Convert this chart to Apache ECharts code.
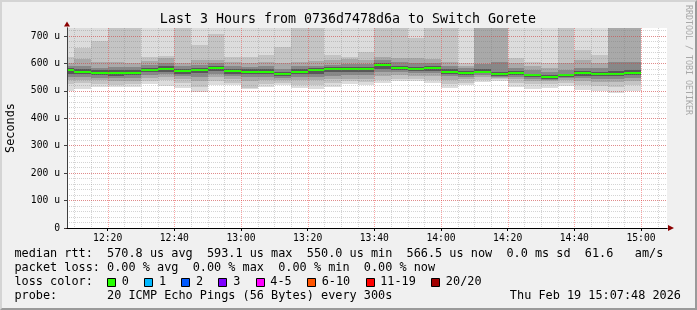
<!DOCTYPE html>
<html><head><meta charset="utf-8">
<script src="https://cdn.jsdelivr.net/npm/echarts@6/dist/echarts.min.js"></script>
<style>
html,body{margin:0;padding:0;background:#f0f0f0;}
#wrap{position:relative;width:697px;height:310px;}
#c{position:absolute;left:0;top:0;width:697px;height:310px;}
#frame{position:absolute;left:0;top:0;width:697px;height:310px;box-sizing:border-box;border-top:2px solid #d4d4d4;border-left:2px solid #d4d4d4;border-right:2px solid #9a9a9a;border-bottom:2px solid #9a9a9a;pointer-events:none;}
</style></head>
<body><div id="wrap"><div id="c"></div><div id="frame"></div></div>
<script>
// ---- data (microseconds) ----
const startTime = '12:07:48';
const endTime = '15:07:48';
const stepSeconds = 300;
const bucketEnds = ['12:10','12:15','12:20','12:25','12:30','12:35','12:40','12:45','12:50','12:55',
  '13:00','13:05','13:10','13:15','13:20','13:25','13:30','13:35','13:40','13:45',
  '13:50','13:55','14:00','14:05','14:10','14:15','14:20','14:25','14:30','14:35',
  '14:40','14:45','14:50','14:55','15:00'];
const xTickLabels = ['12:20','12:40','13:00','13:20','13:40','14:00','14:20','14:40','15:00'];
const xMinorTicks = ['12:10','12:15','12:25','12:30','12:35','12:45','12:50','12:55',
  '13:05','13:10','13:15','13:25','13:30','13:35','13:45',
  '13:50','13:55','14:05','14:10','14:15','14:25','14:30','14:35',
  '14:45','14:50','14:55','15:05'];
const median = [574.5,570.5,566.5,566.5,566.5,577.5,581.5,573.5,577.5,584.5,
  573.5,570.5,570.5,560.5,570.5,574.5,578.5,578.5,578.5,593.1,
  582.5,578.5,582.5,570.5,564.5,570.5,560.5,564.5,556.5,550.0,
  556.5,564.5,561.5,561.5,566.5];
const pingMin = [498,506,514,514,515,525,518,510,495,523,520,505,514,520,510,506,515,525,522,530,537,535,528,510,520,532,535,515,507,510,518,503,500,493,500];
const ping2 = [525,528,525,522,525,535,538,530,515,535,530,512,525,530,522,520,528,535,532,540,545,545,540,525,530,540,542,530,525,525,530,520,518,515,520];
const ping3 = [540,540,538,535,536,548,550,545,535,550,542,535,538,540,538,538,542,545,545,555,558,556,553,540,542,550,548,542,537,535,540,535,533,532,535];
const ping5 = [552,550,548,546,547,558,560,555,550,562,553,550,550,548,550,552,555,557,557,568,568,566,565,553,550,558,552,550,545,540,546,548,545,545,548];
const ping8 = [563,560,557,556,557,568,570,563,565,572,563,560,560,553,560,562,567,568,568,580,575,572,574,562,557,564,555,557,550,545,551,556,553,553,558];
const ping13 = [582,580,575,576,575,585,590,581,585,592,580,578,578,568,578,582,586,586,587,602,592,588,590,578,572,578,570,572,563,558,563,572,570,572,577];
const ping16 = [590,592,585,588,586,595,602,590,596,600,590,588,590,580,590,592,596,598,598,612,605,600,600,590,582,598,604,585,575,568,575,585,582,605,605];
const ping18 = [600,615,605,605,600,610,618,602,612,612,605,600,605,600,605,610,612,615,612,625,620,618,615,605,590,760,760,600,590,585,601,612,600,760,760];
const ping19 = [622,656,680,760,760,622,628,760,668,707,622,622,631,660,760,760,631,625,640,760,760,693,760,760,601,760,760,620,605,600,760,649,631,760,760];
const pingMax = [760,760,760,760,760,760,760,760,760,760,760,760,760,760,760,760,760,760,760,760,760,760,760,760,760,760,760,760,760,760,760,760,760,760,760];
const yTicks = [0,100,200,300,400,500,600,700];
const yMax = 729.2;

const titleText = 'Last 3 Hours from 0736d7478d6a to Switch Gorete';
const legendRtt = 'median rtt:  570.8 us avg  593.1 us max  550.0 us min  566.5 us now  0.0 ms sd  61.6   am/s';
const legendLoss = 'packet loss: 0.00 % avg  0.00 % max  0.00 % min  0.00 % now';
const legendProbe = 'probe:       20 ICMP Echo Pings (56 Bytes) every 300s';
const stampText = 'Thu Feb 19 15:07:48 2026';
const lossLabels = ['0','1','2','3','4-5','6-10','11-19','20/20'];
const lossColors = ['#26ff00','#00b8ff','#0059ff','#7e00ff','#ff00ff','#ff5500','#ff0000','#a10000'];

// ---- helpers ----
const toSec = s => { const p = s.split(':').map(Number); return p[0]*3600 + p[1]*60 + (p[2]||0); };
const fmtTime = v => { const h = Math.floor(v/3600), m = Math.round((v%3600)/60); return String(h).padStart(2,'0') + ':' + String(m).padStart(2,'0'); };
const T0 = toSec(startTime), T1 = toSec(endTime);
const MONO = "'DejaVu Sans Mono', monospace";

const bands = [
  {lo: pingMin, hi: pingMax, color: '#dcdcdc'},
  {lo: ping2, hi: ping19, color: '#c4c4c4'},
  {lo: ping3, hi: ping18, color: '#a9a9a9'},
  {lo: ping5, hi: ping16, color: '#888888'},
  {lo: ping8, hi: ping13, color: '#585858'}
];

const seriesData = bucketEnds.map((t, i) => [toSec(t), median[i]]);
const majorX = xTickLabels.map(toSec);
const minorX = xMinorTicks.map(toSec);

// ---- legend graphics ----
const CW = 7.13, LX = 14.4, FS = 11.85;
const graphics = [];
graphics.push({type:'text', x:348, y:19.5, z:10, style:{text:titleText, font:'13.3px ' + MONO, fill:'#000', align:'center', verticalAlign:'middle'}});
graphics.push({type:'text', x:11, y:128, rotation:Math.PI/2, z:10, style:{text:'Seconds', font:FS + 'px ' + MONO, fill:'#000', align:'center', verticalAlign:'middle'}});
graphics.push({type:'text', x:688, y:5, rotation:-Math.PI/2, z:10, style:{text:'RRDTOOL / TOBI OETIKER', font:'8.3px ' + MONO, fill:'#a8a8a8', align:'left', verticalAlign:'middle'}});
graphics.push({type:'text', x:LX, y:254, z:10, style:{text:legendRtt, font:FS + 'px ' + MONO, fill:'#000', align:'left', verticalAlign:'middle'}});
graphics.push({type:'text', x:LX, y:268, z:10, style:{text:legendLoss, font:FS + 'px ' + MONO, fill:'#000', align:'left', verticalAlign:'middle'}});
graphics.push({type:'text', x:LX, y:282, z:10, style:{text:'loss color:', font:FS + 'px ' + MONO, fill:'#000', align:'left', verticalAlign:'middle'}});
graphics.push({type:'text', x:LX, y:296, z:10, style:{text:legendProbe, font:FS + 'px ' + MONO, fill:'#000', align:'left', verticalAlign:'middle'}});
graphics.push({type:'text', x:681, y:296, z:10, style:{text:stampText, font:FS + 'px ' + MONO, fill:'#000', align:'right', verticalAlign:'middle'}});
let bx = LX + 13*CW;
lossLabels.forEach((lab, k) => {
  graphics.push({type:'rect', z:10, shape:{x:Math.round(bx)+0.5, y:278.5, width:8, height:8}, style:{fill:lossColors[k], stroke:'#000', lineWidth:1}});
  const lx = bx + 14.7;
  graphics.push({type:'text', x:lx, y:282, z:10, style:{text:lab, font:FS + 'px ' + MONO, fill:'#000', align:'left', verticalAlign:'middle'}});
  bx = lx + lab.length*CW + 15.3;
});

const minorGrid = 'rgba(120,120,120,0.32)';
const majorGrid = 'rgba(240,50,50,0.45)';

// vertical grid line renderer (snapped to pixel)
const vLine = color => (params, api) => {
  const cs = params.coordSys;
  const x = Math.round(api.coord([api.value(0), 0])[0]) + 0.5;
  if (x < cs.x || x > cs.x + cs.width) return null;
  return {type:'line', shape:{x1:x, y1:cs.y, x2:x, y2:cs.y + cs.height},
          style:{stroke:color, lineWidth:1, lineDash:[1,1]}};
};

const chart = echarts.init(document.getElementById('c'), null, {renderer:'canvas', width:697, height:310});
chart.setOption({
  animation: false,
  backgroundColor: 'transparent',
  grid: {left:67, right:30, top:28, bottom:82, show:true, backgroundColor:'#ffffff', borderWidth:0, outerBoundsMode:'none', containLabel:false},
  xAxis: [
    {type:'value', min:T0, max:T1, position:'bottom', z:6,
     axisLine:{show:true, onZero:false, lineStyle:{color:'#000', width:1}},
     axisTick:{show:true, interval:0, length:3, customValues:majorX, lineStyle:{color:'#000'}},
     axisLabel:{show:true, interval:0, customValues:majorX, formatter:fmtTime, fontFamily:MONO, fontSize:9.7, color:'#000', margin:5},
     splitLine:{show:false}},
    {type:'value', min:T0, max:T1, position:'bottom', z:5,
     axisLine:{show:true, onZero:false, symbol:['none','triangle'], symbolSize:[6,6], symbolOffset:[0,4], lineStyle:{color:'#8b0000', width:1}},
     axisTick:{show:false}, axisLabel:{show:false}, splitLine:{show:false}}
  ],
  yAxis: [
    {type:'value', min:0, max:yMax, interval:100, position:'left', z:4,
     axisLine:{show:true, onZero:false, lineStyle:{color:'#404040', width:1}},
     axisTick:{show:true, length:3, lineStyle:{color:'#404040'}},
     axisLabel:{show:true, showMaxLabel:false, formatter: v => yTicks.indexOf(v) < 0 ? '' : (v === 0 ? '0' : v + ' u'), fontFamily:MONO, fontSize:9.7, color:'#000', margin:7},
     splitLine:{show:true, showMinLine:false, showMaxLine:false, lineStyle:{color:majorGrid, width:1, type:[1,1]}}},
    {type:'value', min:0, max:yMax, interval:20, position:'left', offset:0, z:3,
     axisLine:{show:true, onZero:false, symbol:['none','triangle'], symbolSize:[6,5], symbolOffset:[0,4], lineStyle:{color:'#8b0000', width:1}},
     axisTick:{show:false}, axisLabel:{show:false},
     splitLine:{show:true, showMinLine:false, showMaxLine:false, lineStyle:{color:minorGrid, width:1, type:[1,1]}}}
  ],
  graphic: graphics,
  series: [{
    type:'custom', xAxisIndex:0, yAxisIndex:0, z:1, silent:true,
    data: seriesData,
    renderItem: (params, api) => {
      const i = params.dataIndex;
      const cs = params.coordSys;
      const tEnd = api.value(0);
      const xa = api.coord([tEnd - stepSeconds, 0])[0];
      const xb = api.coord([tEnd, 0])[0];
      const x0 = Math.round(Math.max(xa, cs.x));
      const x1 = Math.round(Math.min(xb, cs.x + cs.width));
      const children = [];
      bands.forEach(b => {
        let y0 = api.coord([tEnd, b.hi[i]])[1];
        const y1 = Math.round(api.coord([tEnd, b.lo[i]])[1]);
        y0 = Math.round(Math.max(y0, cs.y));
        children.push({type:'rect', shape:{x:x0, y:y0, width:x1 - x0, height:y1 - y0}, style:{fill:b.color}});
      });
      const ym = Math.round(api.coord([tEnd, api.value(1)])[1]);
      children.push({type:'rect', shape:{x:x0, y:ym - 1, width:x1 - x0, height:2}, style:{fill:lossColors[0]}});
      return {type:'group', children};
    }
  }, {
    type:'custom', xAxisIndex:0, yAxisIndex:0, z:3, silent:true,
    data: minorX.map(v => [v]), renderItem: vLine(minorGrid)
  }, {
    type:'custom', xAxisIndex:0, yAxisIndex:0, z:4, silent:true,
    data: majorX.map(v => [v]), renderItem: vLine(majorGrid)
  }]
});
</script>
</body></html>
